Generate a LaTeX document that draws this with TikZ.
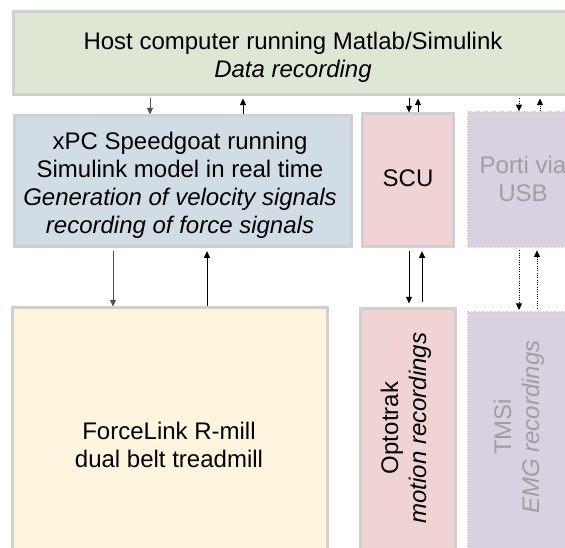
\documentclass[tikz,border=0pt]{standalone}
\usepackage{fontspec}
\setmainfont{Liberation Sans}
\usetikzlibrary{arrows.meta}
\definecolor{hostfill}{RGB}{222,231,212}
\definecolor{xpcfill}{RGB}{208,221,229}
\definecolor{scufill}{RGB}{240,212,212}
\definecolor{lavfill}{RGB}{217,209,224}
\definecolor{forcefill}{RGB}{255,245,222}
\definecolor{bordc}{RGB}{208,208,208}
\definecolor{fadetext}{RGB}{160,158,163}
\definecolor{darkline}{RGB}{80,80,80}
\tikzset{
  box/.style={draw=bordc, line width=2.25pt, inner sep=0pt},
  dotbox/.style={draw=bordc, line width=1pt, densely dotted, inner sep=0pt},
  txt/.style={font=\fontsize{18}{21}\selectfont, align=center, inner sep=0pt},
  arr/.style={line width=0.75pt, -{Triangle[length=5pt,width=4.5pt]}},
  darr/.style={arr, densely dotted},
}
\begin{document}
\begin{tikzpicture}[x=0.75pt,y=-0.75pt]
\useasboundingbox (0,0) rectangle (565,548);
\begin{scope}
\clip (0,0) rectangle (565,548);
% boxes
\node[box, fill=hostfill, minimum width=419.25pt, minimum height=62.25pt] (host) at (292.5,53.5) {};
\node[box, fill=xpcfill, minimum width=252.75pt, minimum height=98.25pt] (xpc) at (182.5,181.5) {};
\node[box, fill=scufill, minimum width=68.25pt, minimum height=99.75pt] (scu) at (407.5,180.5) {};
\node[dotbox, fill=lavfill, minimum width=78pt, minimum height=101.25pt] (porti) at (520,179.5) {};
\node[box, fill=forcefill, minimum width=236.25pt, minimum height=225pt] (force) at (169.5,458) {};
\node[box, fill=scufill, minimum width=71.25pt, minimum height=225pt] (opto) at (407.5,459) {};
\node[dotbox, fill=lavfill, minimum width=78pt, minimum height=225pt] (tmsi) at (520,462) {};
\end{scope}
% texts
\node[txt] (hostT) at (293,57) {Host computer running Matlab/Simulink\\\textit{Data recording}};
\node[txt] (xpcT) at (180,185) {xPC Speedgoat running\\Simulink model in real time\\\textit{Generation of velocity signals}\\\textit{recording of force signals}};
\node[txt] (scuT) at (408,178) {SCU};
\node[txt, text=fadetext] (portiT) at (523,179) {Porti via\\USB};
\node[txt] (forceT) at (169,445) {ForceLink R-mill\\dual belt treadmill};
\node[txt, rotate=90] (optoT) at (406,428) {Optotrak\\\textit{motion recordings}};
\node[txt, rotate=90, text=fadetext] (tmsiT) at (519,427) {TMSi\\\textit{EMG recordings}};
% x positions of connectors
\coordinate (c1) at (150,0);
\coordinate (c2) at (243,0);
\coordinate (c3) at (409,0);
\coordinate (c4) at (418,0);
\coordinate (c5) at (519,0);
\coordinate (c6) at (540,0);
\coordinate (c7) at (113,0);
\coordinate (c8) at (207,0);
\coordinate (c9) at (422,0);
\coordinate (c10) at (537,0);
% connectors
\draw[arr, darkline] ([yshift=-1.5pt]host.south -| c1) -- (xpc.north -| c1);
\draw[arr] (xpc.north -| c2) -- ([yshift=-1.5pt]host.south -| c2);
\draw[arr] ([yshift=-1.5pt]host.south -| c3) -- (scu.north -| c3);
\draw[arr] (scu.north -| c4) -- ([yshift=-1.5pt]host.south -| c4);
\draw[darr] ([yshift=-1.5pt]host.south -| c5) -- (porti.north -| c5);
\draw[darr] (porti.north -| c6) -- ([yshift=-1.5pt]host.south -| c6);
\draw[arr, darkline] ([yshift=-2pt]xpc.south -| c7) -- (force.north -| c7);
\draw[arr] (force.north -| c8) -- ([yshift=-2pt]xpc.south -| c8);
\draw[arr] ([yshift=-2pt]scu.south -| c3) -- ([yshift=3pt]opto.north -| c3);
\draw[arr] ([yshift=4pt]opto.north -| c9) -- ([yshift=-2pt]scu.south -| c9);
\draw[darr] ([yshift=-2pt]porti.south -| c5) -- ([yshift=1pt]tmsi.north -| c5);
\draw[darr] ([yshift=2pt]tmsi.north -| c10) -- ([yshift=-2pt]porti.south -| c10);
\end{tikzpicture}
\end{document}
